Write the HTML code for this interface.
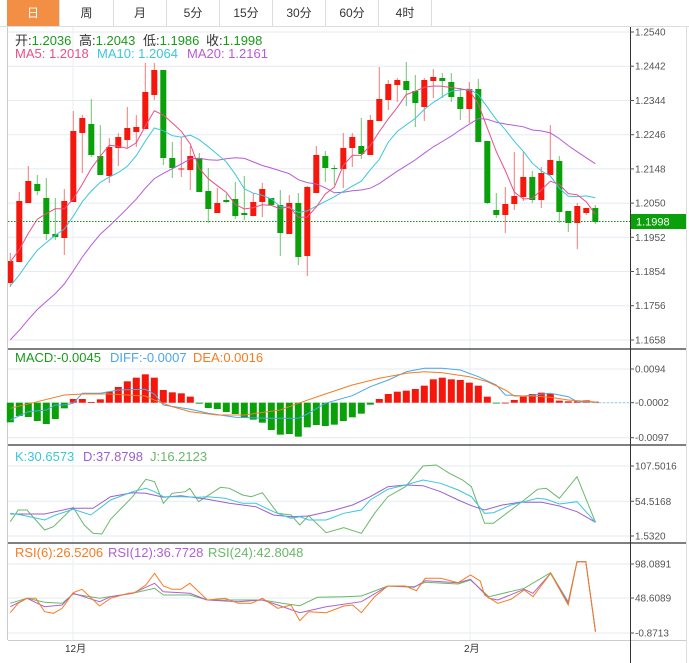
<!DOCTYPE html>
<html><head><meta charset="utf-8"><style>
body{margin:0;background:#fff;width:689px;height:663px;overflow:hidden;font-family:"Liberation Sans","Noto Sans CJK SC",sans-serif}
.tabs{position:absolute;left:0;top:0;height:26px;width:689px;border-bottom:1px solid #ddd}
.tab{position:absolute;top:0;height:26px;line-height:26px;text-align:center;font-size:12px;color:#333;border-right:1px solid #ddd;box-sizing:border-box}
svg{position:absolute;left:0;top:0}
</style></head><body>
<div class="tabs">
<div class="tab" style="left:7px;width:53px;background:#F38E45;color:#fff">日</div>
<div class="tab" style="left:60px;width:54px">周</div>
<div class="tab" style="left:114px;width:53px">月</div>
<div class="tab" style="left:167px;width:53px">5分</div>
<div class="tab" style="left:220px;width:53px">15分</div>
<div class="tab" style="left:273px;width:53px">30分</div>
<div class="tab" style="left:326px;width:53px">60分</div>
<div class="tab" style="left:379px;width:53px">4时</div>
</div>
<svg id="s" width="689" height="663" xmlns="http://www.w3.org/2000/svg" font-family="Liberation Sans, Noto Sans CJK SC, sans-serif" font-size="13">
<text x="15" y="45" fill="#333">开:<tspan fill="#1a9a1a">1.2036</tspan></text>
<text x="79" y="45" fill="#333">高:<tspan fill="#1a9a1a">1.2043</tspan></text>
<text x="143" y="45" fill="#333">低:<tspan fill="#1a9a1a">1.1986</tspan></text>
<text x="206" y="45" fill="#333">收:<tspan fill="#1a9a1a">1.1998</tspan></text>
<text x="15" y="58" fill="#ea4f86">MA5: 1.2018</text>
<text x="97" y="58" fill="#3cc6dc">MA10: 1.2064</text>
<text x="187" y="58" fill="#b85ad6">MA20: 1.2161</text>
<text x="15" y="362" fill="#1a9a1a">MACD:-0.0045</text>
<text x="110" y="362" fill="#4aa6ee">DIFF:-0.0007</text>
<text x="193" y="362" fill="#f57c20">DEA:0.0016</text>
<text x="15" y="461" fill="#3cc6dc">K:30.6573</text>
<text x="83" y="461" fill="#9b5fd0">D:37.8798</text>
<text x="150" y="461" fill="#6ab86a">J:16.2123</text>
<text x="15" y="557" fill="#f57c20">RSI(6):26.5206</text>
<text x="108" y="557" fill="#b060d0">RSI(12):36.7728</text>
<text x="208" y="557" fill="#6ab86a">RSI(24):42.8048</text>
</svg>
<script>
var s=document.getElementById('s'),NS='http://www.w3.org/2000/svg';
function el(t,a,p){var e=document.createElementNS(NS,t);for(var k in a)e.setAttribute(k,a[k]);(p||s).appendChild(e);return e}
function txt(x,y,t,a){var e=el('text',Object.assign({x:x,y:y,'font-size':10,fill:'#555'},a||{}));e.textContent=t;return e}
var g0=el('g',{});s.insertBefore(g0,s.firstChild);
var gl='#e4ebf2';
[32,66.2,100.5,134.7,168.9,203.1,237.3,271.5,305.7,340].forEach(function(y){el('line',{x1:8,x2:630,y1:y,y2:y,stroke:gl},g0)});
[369,402.7,437.7,466,501.3,536,564,598,633].forEach(function(y){el('line',{x1:8,x2:630,y1:y,y2:y,stroke:gl},g0)});
[73,470].forEach(function(x){el('line',{x1:x,x2:x,y1:27,y2:640,stroke:'#e8eef3'},g0)});
el('line',{x1:7.5,x2:7.5,y1:27,y2:640,stroke:'#ccc'},g0);
el('line',{x1:686.5,x2:686.5,y1:27,y2:663,stroke:'#ddd'},g0);
[349,445,543].forEach(function(y){el('line',{x1:8,x2:686,y1:y,y2:y,stroke:'#333','stroke-width':1.3})});
el('line',{x1:8,x2:686,y1:640.5,y2:640.5,stroke:'#ccc'});
el('line',{x1:630.5,x2:630.5,y1:27,y2:663,stroke:'#333'});
var pl=[['1.2540',32],['1.2442',66.2],['1.2344',100.5],['1.2246',134.7],['1.2148',168.9],['1.2050',203.1],['1.1952',237.3],['1.1854',271.5],['1.1756',305.7],['1.1658',340],
['0.0094',369],['-0.0002',402.7],['-0.0097',437.7],['107.5016',466],['54.5168',501.3],['1.5320',536],['98.0891',564],['48.6089',598],['-0.8713',633]];
pl.forEach(function(p){el('line',{x1:630,x2:634,y1:p[1],y2:p[1],stroke:'#555'});txt(635,p[1]+3.5,p[0])});
txt(65,652,'12月',{fill:'#333'});txt(464,652,'2月',{fill:'#333'});
var C=[[261,283,253,287,1],[201,262,192,262,1],[181,203,166,203,1],[184,191,175,195,0],[198,234,178,240,0],[234,237,198,240,0],[201,238,189,255,1],[131,202,111,202,1],[118,133,115,173,1],[124,155,99,157,0],
[156,175,125,175,0],[147,176,138,183,1],[137,148,133,166,1],[128,140,107,148,1],[127,132,115,147,1],[92,129,63,129,1],[70,95,63,100,1],[70,158,70,165,0],[158,168,142,178,0],[168.5,169.5,137,177,1],
[156,170,146,190,1],[158,192,153,192,0],[191,209,168,223,0],[203,213,188,213,1],[200,202,194,203,0],[199,216,182,219,0],[213,215,176,220,0],[202,216,193,216,1],[189,202,183,217,1],[198,205,198,205,0],
[205,233,190,256,0],[203,234,195,234,1],[203,257,193,265,0],[187,256,186,276,1],[155,193,146,193,1],[156,168,151,182,0],[168,169,165,185,0],[148,169,133,188,1],[137,148,133,167,1],[146,154,118,159,0],
[120,155,115,155,1],[99,121,67,121,1],[84,100,80,110,1],[80,85,78,102,1],[81,90,62,106,0],[91,103,75,127,0],[80,107,78,121,1],[77,81,69,98,1],[78,81,73,98,0],[82,97,73,102,0],
[97,109,88,120,0],[89,109,82,123,1],[89,142,79,142,0],[141,203,141,204,0],[210,215,193,218,0],[204,215,187,233,1],[196,204,152,210,1],[177,197,152,201,1],[177,200,171,203,0],[173,200,167,208,1],
[160,175,125,175,1],[161,212,156,223,0],[211,223,211,232,0],[206,223,203,249,1],[208,213,208,215,1],[208,222,205,224,0]];
function X(i){return 10.3+9*i}
var cp=el('clipPath',{id:'cp'});el('rect',{x:8,y:27,width:622,height:321},cp);
var gm=el('g',{'clip-path':'url(#cp)'});
var closes=C.map(function(c){return c[4]?c[0]:c[1]});
C.forEach(function(c,i){var x=X(i),red=c[4];
el('line',{x1:x,x2:x,y1:c[2],y2:c[3],stroke:red?'#f27c76':'#6cc46c'},gm);
el('rect',{x:x-3,y:c[0],width:6,height:Math.max(1,c[1]-c[0]),fill:red?'#f5170b':'#0aa00a'},gm);});
var pre=[];for(var k=0;k<10;k++)pre.push(394);for(k=0;k<5;k++)pre.push(310);for(k=0;k<4;k++)pre.push(262);
var all=pre.concat(closes);
function ma(n,col){var pts=[];for(var i=0;i<C.length;i++){var sm=0;for(var j=0;j<n;j++)sm+=all[19+i-j];pts.push(X(i).toFixed(1)+','+(sm/n).toFixed(1))}
el('polyline',{points:pts.join(' '),fill:'none',stroke:col,'stroke-width':1},gm)}
ma(20,'#b85ad6');ma(10,'#3cc6dc');ma(5,'#ea4f86');
el('line',{x1:8,x2:630,y1:221.5,y2:221.5,stroke:'#1a8a1a','stroke-dasharray':'1.5,1.5'});
el('rect',{x:631,y:214,width:55,height:15,fill:'#0aa00a'});
txt(636,225.5,'1.1998',{fill:'#fff','font-size':11});
var M=[247,228,231,243,252,237,205,177,177,186,178,155,141,124,113,103,113,150,157,160,170,191,204,207,216,222,233,239,248,270,284,282,290,262,255,258,254,243,232,221,194,177,162,155,152,147,137,118,113,118,120,128,137,170,190,188,180,170,162,158,162,182,184,184,181,185];
var zy=402.7;
M.forEach(function(v,i){var y=340+v/3,x=X(i);var red=y<zy;el('rect',{x:x-3.5,y:Math.min(y,zy),width:7,height:Math.max(0.8,Math.abs(y-zy)),fill:red?'#f5170b':'#0aa00a'})});
function zx(v){return 10.3+(v-22)*0.44}
function iline(pts,col,byIdx){var p=[];for(var i=0;i<pts.length;i+=2){var x=byIdx?X(pts[i]):zx(pts[i]);p.push(x.toFixed(1)+','+(340+pts[i+1]/3).toFixed(1))}
el('polyline',{points:p.join(' '),fill:'none',stroke:col,'stroke-width':1})}
iline([0,240,2,215,4,210,5,195,6,195,7,190,8,160,10,160,12,150,15,148,16,162,17,195,20,208,22,220,25,232,29,235,32,235,33,222,35,190,38,167,40,140,42,120,44,95,46,85,48,85,50,90,52,110,54,135,55,165,57,168,60,160,62,170,63,185,65,186],'#4aa6ee',1);
iline([0,205,3,185,6,165,8,162,11,162,15,168,16,180,18,200,20,215,23,225,26,225,30,210,32,190,35,162,38,135,41,115,44,100,46,95,48,98,51,110,53,125,55,150,56,168,58,168,60,172,62,180,65,186],'#f57c20',1);
el('line',{x1:595,x2:630,y1:402.7,y2:402.7,stroke:'#8fd0ee','stroke-dasharray':'2,2'});
iline([22,545,40,510,60,510,100,570,120,560,165,502,190,555,210,580,230,582,250,538,300,470,330,418,350,425,370,490,390,460,420,455,430,445,450,485,500,442,520,445,550,465,570,470,595,458,630,520,660,525,680,555,700,527,740,578,780,563,820,580,850,520,880,470,920,440,960,378,990,375,1020,400,1050,420,1070,440,1100,550,1120,550,1160,510,1190,480,1220,448,1240,445,1270,475,1310,410,1352,547],'#6ab86a');
iline([22,522,100,522,160,505,210,505,250,470,300,458,330,460,370,472,410,467,470,478,520,490,580,500,620,525,660,530,700,528,760,510,800,495,840,470,880,440,920,435,960,437,1000,455,1040,480,1070,497,1100,510,1140,495,1180,487,1230,487,1270,498,1310,515,1352,547],'#9b5fd0');
iline([22,520,48,525,100,540,125,525,165,508,205,525,250,480,300,455,330,445,350,455,370,470,410,470,450,472,470,470,510,475,550,490,580,490,620,515,640,525,660,535,680,530,700,540,740,540,780,520,820,510,840,480,880,448,920,435,960,420,1000,430,1040,450,1070,470,1100,520,1120,518,1160,495,1190,485,1220,475,1240,478,1270,492,1310,485,1352,547],'#3cc6dc');
iline([22,790,60,775,100,787,140,790,165,762,225,775,300,760,350,745,370,765,430,765,470,780,595,780,640,790,680,797,720,772,780,770,820,768,880,738,940,740,965,727,1040,732,1068,720,1110,770,1190,745,1250,698,1290,785,1310,665,1330,665,1352,875],'#6ab86a');
iline([22,800,60,775,100,800,140,795,165,760,225,785,250,770,300,760,350,730,370,755,430,760,470,780,540,785,595,780,630,795,680,818,740,800,820,785,880,738,940,742,965,722,1040,728,1068,718,1110,775,1130,780,1190,748,1210,760,1250,700,1290,790,1310,665,1330,665,1352,875],'#b060d0');
iline([22,818,40,790,60,775,80,775,100,815,120,820,140,805,165,758,185,748,225,798,250,775,290,760,305,758,330,735,350,700,370,738,390,748,410,748,430,730,470,780,510,775,540,790,570,790,595,775,630,805,660,795,680,842,700,815,740,818,780,798,800,795,820,818,850,770,880,738,920,738,945,752,965,715,1000,715,1040,728,1068,705,1090,723,1100,765,1130,790,1160,778,1190,750,1210,770,1250,700,1290,795,1310,665,1330,665,1352,875],'#f57c20');
</script>
</body></html>
